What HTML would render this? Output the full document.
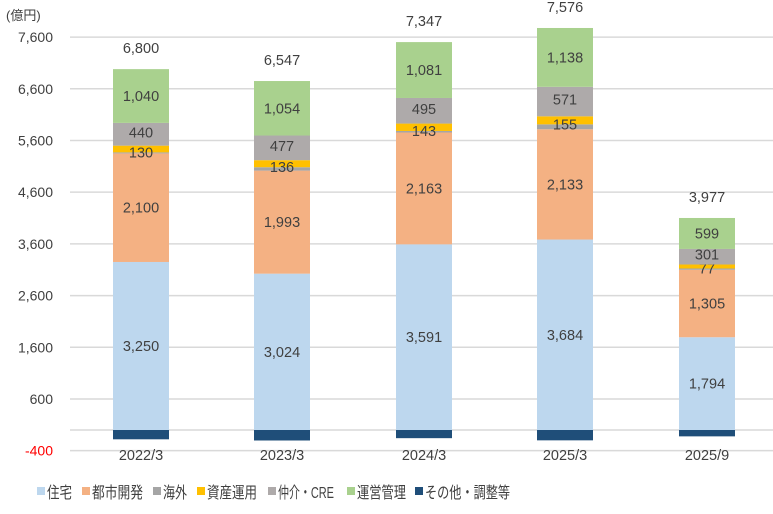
<!DOCTYPE html>
<html><head><meta charset="utf-8"><style>
body{margin:0;background:#fff;}
svg{display:block;font-family:"Liberation Sans","Noto Sans CJK JP",sans-serif;}
</style></head><body>
<svg id="c" width="773" height="514" xmlns="http://www.w3.org/2000/svg"></svg>
<script>
const s=document.getElementById('c');let h='';
const k=0.0517,y0=430;const Y=v=>y0-v*k;
[7600,6600,5600,4600,3600,2600,1600,600,0,-400].forEach(v=>{h+=`<line x1="70" x2="773" y1="${Y(v)}" y2="${Y(v)}" stroke="#d9d9d9" stroke-width="1.5"/>`;});
[7600,6600,5600,4600,3600,2600,1600,600,-400].forEach(v=>{h+=`<text x="53" y="${Y(v)+5}" text-anchor="end" font-size="14" fill="${v<0?'#ff0000':'#404040'}">${v.toLocaleString('en-US')}</text>`;});
h+=`<text x="6" y="20" font-size="13" fill="#404040">(億円)</text>`;
const col=['#BDD7EE','#F4B183','#A5A5A5','#FFC000','#AEAAAA','#A9D18E'];
const bars=[
 {x:113,lab:'2022/3',v:[3250,2100,20,130,440,1040],o:-180,t:'6,800',txt:['3,250','2,100','','130','440','1,040']},
 {x:254,lab:'2023/3',v:[3024,1993,66,136,477,1054],o:-203,t:'6,547',txt:['3,024','1,993','','136','477','1,054']},
 {x:396,lab:'2024/3',v:[3591,2163,30,143,495,1081],o:-158,t:'7,347',txt:['3,591','2,163','','143','495','1,081']},
 {x:537,lab:'2025/3',v:[3684,2133,95,155,571,1138],o:-200,t:'7,576',txt:['3,684','2,133','','155','571','1,138']},
 {x:679,lab:'2025/9',v:[1794,1305,25,77,301,599],o:-123,t:'3,977',txt:['1,794','1,305','','77','301','599']}];
bars.forEach(b=>{let c=0;const w=56,cx=b.x+w/2;
 h+=`<rect x="${b.x}" y="${y0}" width="${w}" height="${-b.o*k}" fill="#1F4E79"/>`;
 b.v.forEach((v,i)=>{const top=Y(c+v),bot=Y(c);h+=`<rect x="${b.x}" y="${top}" width="${w}" height="${bot-top}" fill="${col[i]}"/>`;
  if(b.txt[i]){let ty=(top+bot)/2+5;if(i==3)ty=bot+5;if(i==4)ty=(top+bot)/2+3;h+=`<text x="${cx}" y="${ty}" text-anchor="middle" font-size="14.5" fill="#404040">${b.txt[i]}</text>`;}
  c+=v;});
 h+=`<text x="${cx}" y="${Y(c)-16}" text-anchor="middle" font-size="14.5" fill="#404040">${b.t}</text>`;
 h+=`<text x="${cx}" y="460" text-anchor="middle" font-size="14.5" fill="#404040">${b.lab}</text>`;
});
const leg=[['住宅','#BDD7EE',37,25],['都市開発','#F4B183',82,51],['海外','#A5A5A5',153,24],['資産運用','#FFC000',197,50],['仲介・CRE','#AEAAAA',268,56],['運営管理','#A9D18E',347,49],['その他・調整等','#1F4E79',415,85]];
leg.forEach(l=>{h+=`<rect x="${l[2]}" y="487" width="8" height="8" fill="${l[1]}"/><text x="${l[2]+10}" y="498" font-size="16" textLength="${l[3]}" lengthAdjust="spacingAndGlyphs" fill="#404040">${l[0]}</text>`;});
s.innerHTML=h;
</script>
</body></html>
